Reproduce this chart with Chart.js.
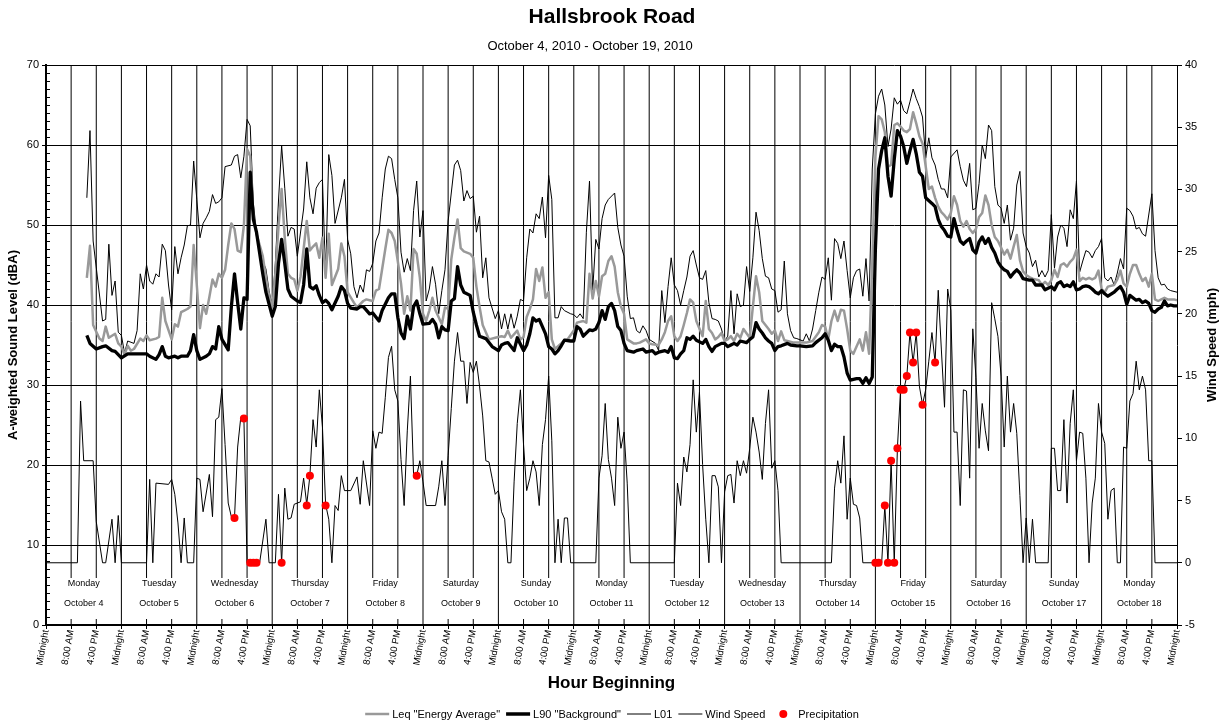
<!DOCTYPE html>
<html><head><meta charset="utf-8">
<script src="https://cdn.jsdelivr.net/npm/chart.js@4.4.0/dist/chart.umd.min.js"></script>
<style>html,body{margin:0;padding:0;background:#fff;}</style>
</head><body>
<canvas id="c" width="1225" height="725"></canvas>
<script>
const FONT = '"Liberation Sans", Arial, Helvetica, sans-serif';

// ---- Data (hour offset from midnight, Monday October 4, 2010) ----
const l01Hours = [13,14,15,18,19,20,21,22,23,24,25,26,28,29,30,31,32,33,34,35,36,37,38,39,40,41,42,43,44,45,46,47,48,49,50,51,52,53,54,55,56,57,59,60,61,62,63,64,65,66,67,69,70,71,72,73,74,75,76,77,78,79,80,82,83,84,85,86,87,88,89,90,91,92,94,95,96,97,98,99,100,101,102,103,104,105,106,107,108,109,110,111,112,113,114,115,116,117,118,119,120,121,122,123,124,125,126,127,128,129,130,131,132,133,134,135,136,137,138,139,140,141,143,144,145,146,147,148,149,150,151,152,153,154,155,156,157,158,159,160,161,162,163,164,165,167,168,169,170,171,172,173,174,175,176,177,178,179,181,182,183,184,185,186,187,188,189,190,191,192,194,195,196,197,198,199,200,201,202,203,204,205,206,207,208,209,210,211,212,213,214,215,216,217,218,219,220,221,222,223,224,225,226,227,228,229,230,231,232,233,234,235,236,237,238,239,241,242,243,244,245,246,247,248,249,250,251,252,253,254,255,256,257,258,259,260,261,262,263,264,265,266,267,268,269,270,271,272,273,274,275,276,277,278,279,280,281,282,283,284,285,286,287,288,290,291,292,293,294,295,296,297,298,299,300,301,302,303,304,305,306,307,308,309,310,311,312,313,314,315,316,317,318,319,320,321,322,323,324,325,326,327,328,329,330,331,332,333,334,335,336,337,338,339,340,341,342,343,344,345,346,347,348,349,350,352,353,354,355,356,357,358,360];
const l01Values = [53.4,61.8,48,38,38.2,47.6,41.2,43,36.6,36.2,34,35.5,35.2,36.8,43.9,42,45,43,42.6,43.9,43.5,47.6,46.8,42.5,39.4,47.3,43.9,45.9,47.5,49.9,50,58,53.2,48.4,50.2,50.9,51.7,53.8,52.7,52.9,53.4,57.3,57.5,58.6,58.8,55.9,58.6,63.2,62.4,52.7,49.1,45.5,44.5,41.8,39.8,45.2,53,59.9,54.6,48.6,49.7,49.5,46.1,52,57.9,53.4,51.4,54.6,55.3,55.7,43.5,58.8,56.2,50.2,53.4,55.7,48.2,46.4,42.3,40.9,42.5,41.6,44.4,44.2,45.2,48,49,53.4,57,58.6,58.3,55.7,53.4,46.6,44.1,45.8,44.3,51.8,55.5,48.5,51.8,40.5,42,44.8,42.6,38.9,41.8,44.4,50.5,54,57.5,58.1,56.8,53,54.3,53.3,53.6,49.1,51.1,43.4,45.9,40.9,38.3,39.3,37,38.9,37,38.9,37.1,38.6,40.7,40.5,45.9,49.5,49,51.4,50.8,53.5,48.4,56.2,53.2,38.4,38.4,39.8,39.3,38.9,38.8,38.4,38.9,38.3,49.1,55.5,41.8,48.2,47,50.8,52.5,53.2,54,49.7,47.5,46.1,41.1,38.3,38.4,36.8,36.5,37.4,36.8,35.7,35.2,34.3,41.8,37.8,42.3,45.9,42.5,41.8,40,41.8,43.5,46.1,46.8,45,43.4,43.2,44.3,40.3,38.3,38.2,38,37,35.5,36.1,41.8,36.4,41.4,39.8,40,44.8,41.7,45.9,51.6,49.3,45.8,43.6,43.4,42,41.8,39.1,39.4,45.5,38.9,36.8,35.9,35.8,35.5,36.4,35.5,37,39.3,41.6,43.5,43.2,45.9,40.6,48.3,47.7,45.8,48,44.3,40.9,43.4,44.3,44.5,41.1,45.8,40.5,57,63.9,66.1,67,65,59.8,62,65.9,65.1,65.6,64.3,63.9,65.4,67,65.8,64.8,63.5,58.4,60.9,58.4,57.5,55.7,54.5,54.5,53.4,58.5,59.4,57.3,55.6,54.8,57.7,51.9,52.1,55.2,60,58.3,62.5,61.8,54.8,52.5,52.1,50.2,52.5,48.1,49.6,55,56.7,49,47.3,46.5,44.8,45.6,43.5,44.3,43.5,44.3,51.3,44.6,48.5,50,49.6,47.3,51.9,50.8,55.5,44.1,45.5,46.8,46.6,45.9,46.8,47.3,48.3,43.4,43,43.5,42.5,44,45.8,44.5,52.1,51.8,51.1,49.5,49.7,48.9,48.6,53.9,46.8,43.4,42.5,42.6,42,41.8,41.6];

const leqHours = [13,14,15,17,18,19,20,22,23,24,25,26,27,28,30,31,32,33,35,36,37,38,40,41,42,43,44,45,46,47,48,49,50,51,52,53,54,55,56,57,58,59,60,61,62,63,64,65,66,67,69,70,71,72,73,74,75,76,77,78,79,80,81,83,84,85,86,87,88,89,90,91,93,94,95,96,98,99,101,102,103,104,105,106,108,109,110,111,112,113,114,115,116,117,118,119,120,121,122,123,124,126,127,128,129,130,131,132,133,135,136,137,138,139,140,141,143,145,146,147,148,150,151,152,153,154,155,156,157,158,159,160,161,162,164,165,166,168,169,171,172,173,174,175,176,177,178,179,180,181,182,183,184,185,187,188,189,191,192,193,195,196,197,198,199,200,201,202,203,204,205,206,207,209,210,211,212,213,214,215,216,217,218,219,220,221,222,224,225,226,227,228,229,230,231,232,233,234,235,236,238,239,240,242,243,244,246,247,248,249,250,251,252,253,254,255,256,257,258,259,260,261,262,263,264,265,266,267,268,269,270,271,272,273,274,275,276,277,278,279,281,282,283,284,285,286,287,288,289,290,291,292,293,294,295,296,297,298,299,300,301,302,303,304,305,306,307,308,309,310,311,312,313,314,316,317,318,319,320,321,322,323,324,325,326,327,328,329,330,331,332,333,334,335,336,337,338,340,341,342,343,344,345,346,347,348,349,350,351,352,353,354,355,356,357,359,360];
const leqValues = [43.4,47.4,37.5,35.8,35.5,37.3,35.9,36.4,35.2,34.8,33.8,34.9,34.3,34.5,35.8,35.5,36.2,35.6,35.8,36,40.9,38,35.7,37.6,37.3,39.1,39.3,39.5,39.8,47.5,42.5,37.1,40,38.9,41,43.2,42.3,43.9,43.4,44.4,47.5,50.2,49.5,46.8,46.6,50,59.5,58.6,50.9,48.9,46.1,43.4,41.2,39.4,43.9,49.8,54.5,48.4,43.9,43.4,43.2,41.8,43.5,50.5,46.8,47.3,47.7,45.9,48.4,43.4,48.9,42.5,44.5,47.7,46.1,41.6,40.3,39.7,40.5,40.7,40.6,40.5,41.8,42,47,49.4,49,48,45.4,42.7,38.9,41.1,39.3,47,46.4,43.4,38.9,38,39.3,40.9,39.3,37.6,39.7,39.5,45.7,48.4,50.7,47.1,46.7,46.4,45.9,42.3,39.8,37.5,36.6,35.7,35.9,36.1,36,36.8,35.9,36.8,35.7,36,38.5,39.5,40.7,44.5,43,44.7,40.9,41.6,35.7,34.5,35.2,35.6,35.7,36.8,37.8,38,37.8,43.9,40.8,43,41.1,43.6,43.9,45.5,46.1,44.8,41.6,39.8,38.9,35.7,35.2,35.2,35.3,35.7,35.2,35.1,35,35.7,36.6,38,38.6,36.1,35.5,36.1,37.5,39,40.7,40.3,38,36.1,40.5,37,36.5,35.7,36,36.5,35.5,35.7,36.1,35.5,36.4,35.9,37,35.9,39.8,43.6,41.6,38,37.5,37,36.4,36.8,35.5,36.7,35.6,35.5,35.3,35.3,35.3,35.3,35.4,35.5,36.6,37.5,37.3,35.7,38,39.3,38,39.4,39.3,37,34.3,33.9,34.8,35.7,34.3,36.6,33.9,45.2,58.5,63.6,63.2,61.6,57.3,57.5,62.5,62.7,62.3,61.8,61.6,62,64.1,62.7,61.1,60.2,54.5,54.8,53.4,52.3,51.6,51.2,50.7,51.5,53.6,52.5,50.5,49.8,50.5,49.5,49,49.5,51,51.5,53.7,52.5,50,48.5,48,47.2,46.3,46.9,45.8,47.3,48.75,45.6,44.2,43.75,43.5,43.3,43.1,42.5,42.9,42.5,43.1,44.4,43.5,45,45.2,44.8,45.4,45.8,46.9,43,43.4,43.2,43.4,43.2,43.4,44.3,42,41.6,42.3,42.5,43.2,44.3,42.7,42.3,43.9,45,45,43.9,43,43.4,42.3,43.9,40.7,40.5,40.7,40.9,40.7,40.7,40.6];

const l90Hours = [13,14,16,18,19,21,22,24,26,28,30,32,33,35,36,37,38,39,41,42,43,45,46,47,48,49,51,52,53,54,55,56,58,59,60,61,62,63,64,65,66,67,69,70,71,72,73,74,75,76,77,78,80,81,82,83,84,85,86,87,88,89,90,91,93,94,95,96,97,99,100,101,103,104,106,107,109,110,111,112,113,114,115,116,117,118,119,120,122,123,124,125,126,127,128,129,130,131,132,133,135,136,137,138,140,141,142,144,145,146,147,149,150,152,153,154,155,156,157,158,159,160,161,162,163,164,165,167,168,169,170,171,173,174,175,176,177,178,179,180,181,182,183,184,185,187,188,190,191,193,194,195,197,198,199,200,201,202,203,204,205,206,207,209,210,211,212,213,215,216,217,218,219,220,221,223,224,225,226,227,228,229,230,231,232,233,234,236,237,239,240,242,244,245,247,248,249,250,251,252,253,254,255,256,258,259,260,261,262,263,264,265,266,267,268,269,270,271,272,273,274,275,276,277,278,279,280,282,283,284,285,286,287,288,289,290,291,292,293,294,295,296,297,298,299,300,301,302,303,304,305,306,307,308,309,310,311,313,314,315,317,318,320,321,322,323,324,325,326,327,328,329,330,331,332,333,334,335,336,337,338,340,341,342,343,344,345,347,348,349,350,351,352,353,354,355,356,357,358,359,360];
const l90Values = [36.2,35.2,34.5,34.8,34.9,34.3,34.2,33.4,33.9,33.9,33.9,33.9,33.6,33.2,33.8,34.8,33.6,33.4,33.6,33.4,33.6,33.6,34.3,36.3,34.3,33.2,33.6,33.9,34.8,34.5,37.3,35.7,34.4,39.8,43.9,40.3,37,40.9,40.7,56.6,50.7,49.1,43.9,41.6,40.1,38.6,39.8,45.2,48.2,45.2,42,41.1,40.5,40.3,42.5,47,42.3,42,42.4,41.2,40.3,40.6,40.2,39.4,41.1,42.3,41.8,40.2,39.6,39.5,39.8,39.8,38.9,39,38,39.3,40.9,41.4,41.4,38.4,36.5,35.8,38.6,37,39.8,40.5,38.9,37.6,37.7,38.2,37.6,35.9,37.3,36.9,36.8,40.5,40.8,44.8,42.5,41.6,41.2,39.1,37.5,36.1,35.8,35.3,34.8,34.3,35,35.2,35.3,34.3,35.9,34.3,35,36.4,38.4,38,38.2,37.3,36.4,34.8,34.5,33.9,34.3,34.9,35.6,35.5,35.5,37.3,37,36.1,36.9,36.8,37,37.8,39.3,38.2,39.8,40.2,39.3,37.3,36.8,35.2,34.3,34.1,34.3,34.5,34.1,34.3,33.9,34.1,34.3,34.1,34.8,33.4,33.3,33.9,34.3,35.9,35.7,36.1,35.6,35.2,35.7,34.8,34.2,34.8,35.2,35.2,34.8,35,35.2,35,35.5,35.3,35.7,36,37.8,37,36.5,35.9,35.5,35.2,34.3,34.8,34.9,35.2,35,34.9,34.9,34.8,34.9,35.3,35.9,36.4,35.6,34.3,35.1,34.8,34.8,33.5,31.5,30.6,30.8,30.8,30.2,30.9,30.2,31,47,57,59.3,60.9,56.1,53.6,58.2,61.8,61.1,59.8,57.7,59.3,60.7,58.9,56.6,56.1,53.4,52.7,52.3,50.7,49.8,49.3,48.6,48.5,50.8,49.3,48,47.6,48,48.3,46.9,46.5,47.9,48.5,47.7,48.3,47.2,46.5,45.4,44.8,44.4,44.2,43.5,44,44.4,44,43.3,43.1,43.1,42.5,42.5,41.9,42.3,41.9,42.7,42.9,42.3,42.5,42.3,42.9,41.9,42,42.3,42.4,42.3,42,41.6,41.4,41.8,41.4,41.1,41.6,42,42.3,41.6,40.1,41.2,40.6,40.7,40.3,40.5,40.2,39.3,39.1,39.5,39.7,40.5,39.9,40,39.9,39.9];

const windHours = [0,10,11,12,15,16,18,19,21,22,23,24,32,33,34,35,39,40,41,42,43,44,45,47,48,49,50,52,53,54,55,56,57,58,59,60,61,62,63,64,68,70,71,73,74,75,76,77,78,79,81,82,83,84,85,86,87,88,89,90,91,92,93,94,95,97,99,100,101,103,104,105,106,107,108,109,110,111,112,113,114,115,116,117,118,119,120,121,124,125,126,127,128,129,130,131,132,133,134,135,136,137,138,139,140,141,142,143,144,145,146,147,148,149,150,151,152,153,154,155,156,157,158,159,160,161,162,163,164,165,166,167,175,176,177,178,179,180,181,182,183,184,185,186,200,201,202,203,204,205,206,207,208,209,210,211,212,213,214,215,216,217,218,219,220,221,222,223,224,225,226,227,228,229,230,231,232,233,234,250,251,252,253,254,255,256,257,258,259,260,266,267,268,269,270,271,272,273,274,275,276,277,278,279,280,281,282,283,284,285,286,287,288,289,290,291,292,293,294,295,296,297,298,299,300,301,302,303,304,305,306,307,308,309,310,311,312,313,314,315,319,320,321,322,323,324,325,326,327,328,329,330,331,332,333,334,335,336,337,338,339,340,341,342,343,344,345,346,347,348,349,350,351,352,353,360];
const windValues = [0,0,13,8.2,8.2,3.3,0,0,3.5,0,3.8,0,0,6.7,0,6.4,6.3,6.7,5.5,3.2,0,3.6,0,0,6.8,6.7,4.1,7.1,3.7,11.5,11.7,14,9.5,4.8,3.7,3.6,9.3,11.7,11.5,0,0,3.5,0,0,5.5,0,6,3.5,3.6,4.7,4.9,6.8,4.7,7,11.5,9.3,13.9,10.9,4.7,3.5,0,4.6,4.2,7,5.8,5.8,6.9,4.7,8.2,4.6,10.6,9.2,10.5,10.4,13.3,16.5,17.4,13.9,13,8.3,4.6,10.6,15,7.1,7,8.2,6.5,4.6,4.6,6.1,8.2,4.6,8.6,12.4,16.2,18.5,16.2,16.2,12.8,16.1,15.3,16.2,14.2,11.8,8.2,8.1,6.8,5.5,5.8,4.1,3.5,0,0,6.5,11.2,13.9,9.5,5.8,6.8,8.2,7.3,4.6,9.5,11.5,15,9.8,0,3.5,0,3.6,3.6,0,0,6.8,8.6,12.8,8.3,6.8,4.6,11.7,9.2,10.5,6.4,0,0,6.4,4.6,8.5,7.3,9.5,14.7,10.5,13.7,7.9,3.5,0,7,7,6.1,0,5.7,7,7.1,4.8,8.2,7,8.2,7.2,9.2,11.7,10.5,8.9,6.7,11.2,13.9,7.6,8.2,5.8,0,0,6,8.2,6.4,10.2,3.5,6.8,4.7,4.6,3.6,0,0,4.6,0,8.2,0,9.2,13.9,13.9,15,18.5,16.1,18.5,14.2,12.7,13.9,16.2,18.5,16.1,21.9,17.1,12.5,22,20.3,10.5,10.5,4.6,13.9,13.8,6.8,18.8,14.9,9.2,12.8,10.6,9,20.9,19.6,18.2,15,9.3,15,10.5,12.8,10.4,5.4,0,3.6,0,3.5,0,0,9.2,9.2,5.8,5.8,11.5,4.8,11.2,13.9,8.2,10.5,10.4,6.8,0,4.8,6.8,12.8,10.5,9.6,3.5,5.8,6,0,0,9.3,9.2,13,13.6,16.2,13.9,15,13.9,8.2,8.2,0,0];

const precipHours = [60,63,65,66,67,75,83,84,89,118,264,265,267,268,269,270,271,272,273,274,275,276,277,279,283];
const precipValues = [3.6,11.6,0,0,0,0,4.6,7,4.6,7,0,0,4.6,0,8.2,0,9.2,13.9,13.9,15,18.5,16.1,18.5,12.7,16.1];

const tickLabels = ['Midnight','8:00 AM','4:00 PM'];
const dayNames = ['Monday','Tuesday','Wednesday','Thursday','Friday','Saturday','Sunday','Monday','Tuesday','Wednesday','Thursday','Friday','Saturday','Sunday','Monday'];
const dayDates = ['October 4','October 5','October 6','October 7','October 8','October 9','October 10','October 11','October 12','October 13','October 14','October 15','October 16','October 17','October 18'];
const leftTicks = [0,10,20,30,40,50,60,70];
const rightTicks = [-5,0,5,10,15,20,25,30,35,40];

const tickHours = [];
for (let i = 0; i <= 45; i++) tickHours.push(i * 8);
const pts = (hs, vs) => hs.map((h, i) => ({x: h, y: vs[i]}));

const legendItems = [
  {text: 'Leq "Energy Average"', kind: 'line', color: '#999999', width: 2.5},
  {text: 'L90 "Background"', kind: 'line', color: '#000000', width: 3.5},
  {text: 'L01', kind: 'line', color: '#000000', width: 1},
  {text: 'Wind Speed', kind: 'line', color: '#000000', width: 1},
  {text: 'Precipitation', kind: 'dot', color: '#ff0000'}
];

const decor = {
  id: 'decor',
  beforeDraw(chart) {
    const c = chart.ctx; c.save(); c.fillStyle = '#fff'; c.fillRect(0, 0, chart.width, chart.height); c.restore();
  },
  beforeDatasetsDraw(chart) {
    const {ctx, chartArea: a, scales: {x, y}} = chart;
    ctx.save();
    ctx.strokeStyle = '#000'; ctx.lineWidth = 1;
    ctx.beginPath();
    for (const h of tickHours) {
      if (h === 0 || h === 360) continue;
      const px = x.getPixelForValue(h);
      ctx.moveTo(px, a.top);
      if (h % 24 === 0) { ctx.lineTo(px, a.bottom); }
      else { ctx.lineTo(px, a.bottom - 47); ctx.moveTo(px, a.bottom - 6); ctx.lineTo(px, a.bottom); }
    }
    for (let v = 1; v < 70; v++) {
      const py = Math.round(y.getPixelForValue(v)) + 0.5;
      ctx.moveTo(a.left, py); ctx.lineTo(a.left + 4, py);
    }
    ctx.stroke();
    ctx.restore();
  },
  afterDraw(chart) {
    const {ctx, chartArea: a, scales: {x}} = chart;
    ctx.save();
    ctx.fillStyle = '#000';
    ctx.textAlign = 'center';
    ctx.textBaseline = 'alphabetic';
    ctx.font = 'bold 21px ' + FONT;
    ctx.fillText('Hallsbrook Road', 612, 23);
    ctx.font = '13px ' + FONT;
    ctx.fillText('October 4, 2010 - October 19, 2010', 590, 50);

    // day labels
    ctx.font = '9px ' + FONT;
    ctx.textBaseline = 'middle';
    for (let d = 0; d < dayNames.length; d++) {
      const cx = x.getPixelForValue(d * 24 + 12);
      ctx.fillText(dayNames[d], cx, a.bottom - 41);
      ctx.fillText(dayDates[d], cx, a.bottom - 21);
    }

    // axis titles
    ctx.font = 'bold 17px ' + FONT;
    ctx.fillText('Hour Beginning', (a.left + a.right) / 2, 683);
    ctx.font = 'bold 13px ' + FONT;
    const cy = (a.top + a.bottom) / 2;
    ctx.save(); ctx.translate(13, cy); ctx.rotate(-Math.PI / 2);
    ctx.fillText('A-weighted Sound Level (dBA)', 0, 0); ctx.restore();
    ctx.save(); ctx.translate(1212, cy); ctx.rotate(-Math.PI / 2);
    ctx.fillText('Wind Speed (mph)', 0, 0); ctx.restore();

    // legend (laid out from measured text, centred under the plot)
    const ly = 714, keyW = 24, keyGap = 3, itemGap = 6;
    ctx.font = '11px ' + FONT;
    ctx.textAlign = 'left';
    const widths = legendItems.map(it => ctx.measureText(it.text).width);
    let total = itemGap * (legendItems.length - 1);
    widths.forEach(w => { total += keyW + keyGap + w; });
    let lx = 612 - total / 2;
    legendItems.forEach((it, i) => {
      if (it.kind === 'line') {
        ctx.strokeStyle = it.color; ctx.lineWidth = it.width;
        ctx.beginPath(); ctx.moveTo(lx, ly); ctx.lineTo(lx + keyW, ly); ctx.stroke();
      } else {
        ctx.fillStyle = it.color;
        ctx.beginPath(); ctx.arc(lx + keyW / 2, ly, 4, 0, Math.PI * 2); ctx.fill();
      }
      ctx.fillStyle = '#000';
      ctx.fillText(it.text, lx + keyW + keyGap, ly + 1);
      lx += keyW + keyGap + widths[i] + itemGap;
    });
    ctx.restore();
  }
};

new Chart(document.getElementById('c'), {
  type: 'line',
  data: {
    datasets: [
      {label: 'Leq "Energy Average"', data: pts(leqHours, leqValues), yAxisID: 'y', borderColor: '#999999', borderWidth: 2.5, pointRadius: 0, order: 2, borderJoinStyle: 'round', tension: 0},
      {label: 'L90 "Background"', data: pts(l90Hours, l90Values), yAxisID: 'y', borderColor: '#000000', borderWidth: 3.3, pointRadius: 0, order: 1, borderJoinStyle: 'round', tension: 0},
      {label: 'L01', data: pts(l01Hours, l01Values), yAxisID: 'y', borderColor: '#000000', borderWidth: 1, pointRadius: 0, order: 3, tension: 0},
      {label: 'Wind Speed', data: pts(windHours, windValues), yAxisID: 'y2', borderColor: '#000000', borderWidth: 1, pointRadius: 0, order: 4, tension: 0},
      {label: 'Precipitation', data: pts(precipHours, precipValues), yAxisID: 'y2', showLine: false, borderColor: '#ff0000', backgroundColor: '#ff0000', pointRadius: 4, pointBorderWidth: 0, pointBackgroundColor: '#ff0000', order: 0}
    ]
  },
  options: {
    responsive: false,
    animation: false,
    devicePixelRatio: 1,
    layout: {padding: {top: 65, left: 0, right: 0, bottom: 0}},
    plugins: {legend: {display: false}, tooltip: {enabled: false}, title: {display: false}},
    scales: {
      x: {
        type: 'linear', min: 0, max: 360,
        afterBuildTicks: s => { s.ticks = tickHours.map(v => ({value: v})); },
        afterFit: s => { s.height = 100; },
        ticks: {autoSkip: false, minRotation: 80, maxRotation: 80, padding: 0, color: '#000',
          font: {family: FONT, size: 9.5},
          callback: v => tickLabels[Math.round(v / 8) % 3]},
        grid: {display: true, drawOnChartArea: false, drawTicks: true, tickLength: 4, color: '#000'},
        border: {display: true, color: '#000', width: 2}
      },
      y: {
        position: 'left', min: 0, max: 70,
        afterBuildTicks: s => { s.ticks = leftTicks.map(v => ({value: v})); },
        afterFit: s => { s.width = 46; },
        ticks: {color: '#000', font: {family: FONT, size: 11}, padding: 3},
        grid: {color: '#000', lineWidth: 1, tickLength: 4},
        border: {display: true, color: '#000', width: 2}
      },
      y2: {
        position: 'right', min: -5, max: 40,
        afterBuildTicks: s => { s.ticks = rightTicks.map(v => ({value: v})); },
        afterFit: s => { s.width = 48; },
        ticks: {color: '#000', font: {family: FONT, size: 11}, padding: 3},
        grid: {drawOnChartArea: false, tickLength: 5, color: '#000'},
        border: {display: true, color: '#000', width: 1}
      }
    }
  },
  plugins: [decor]
});
</script>
</body></html>
